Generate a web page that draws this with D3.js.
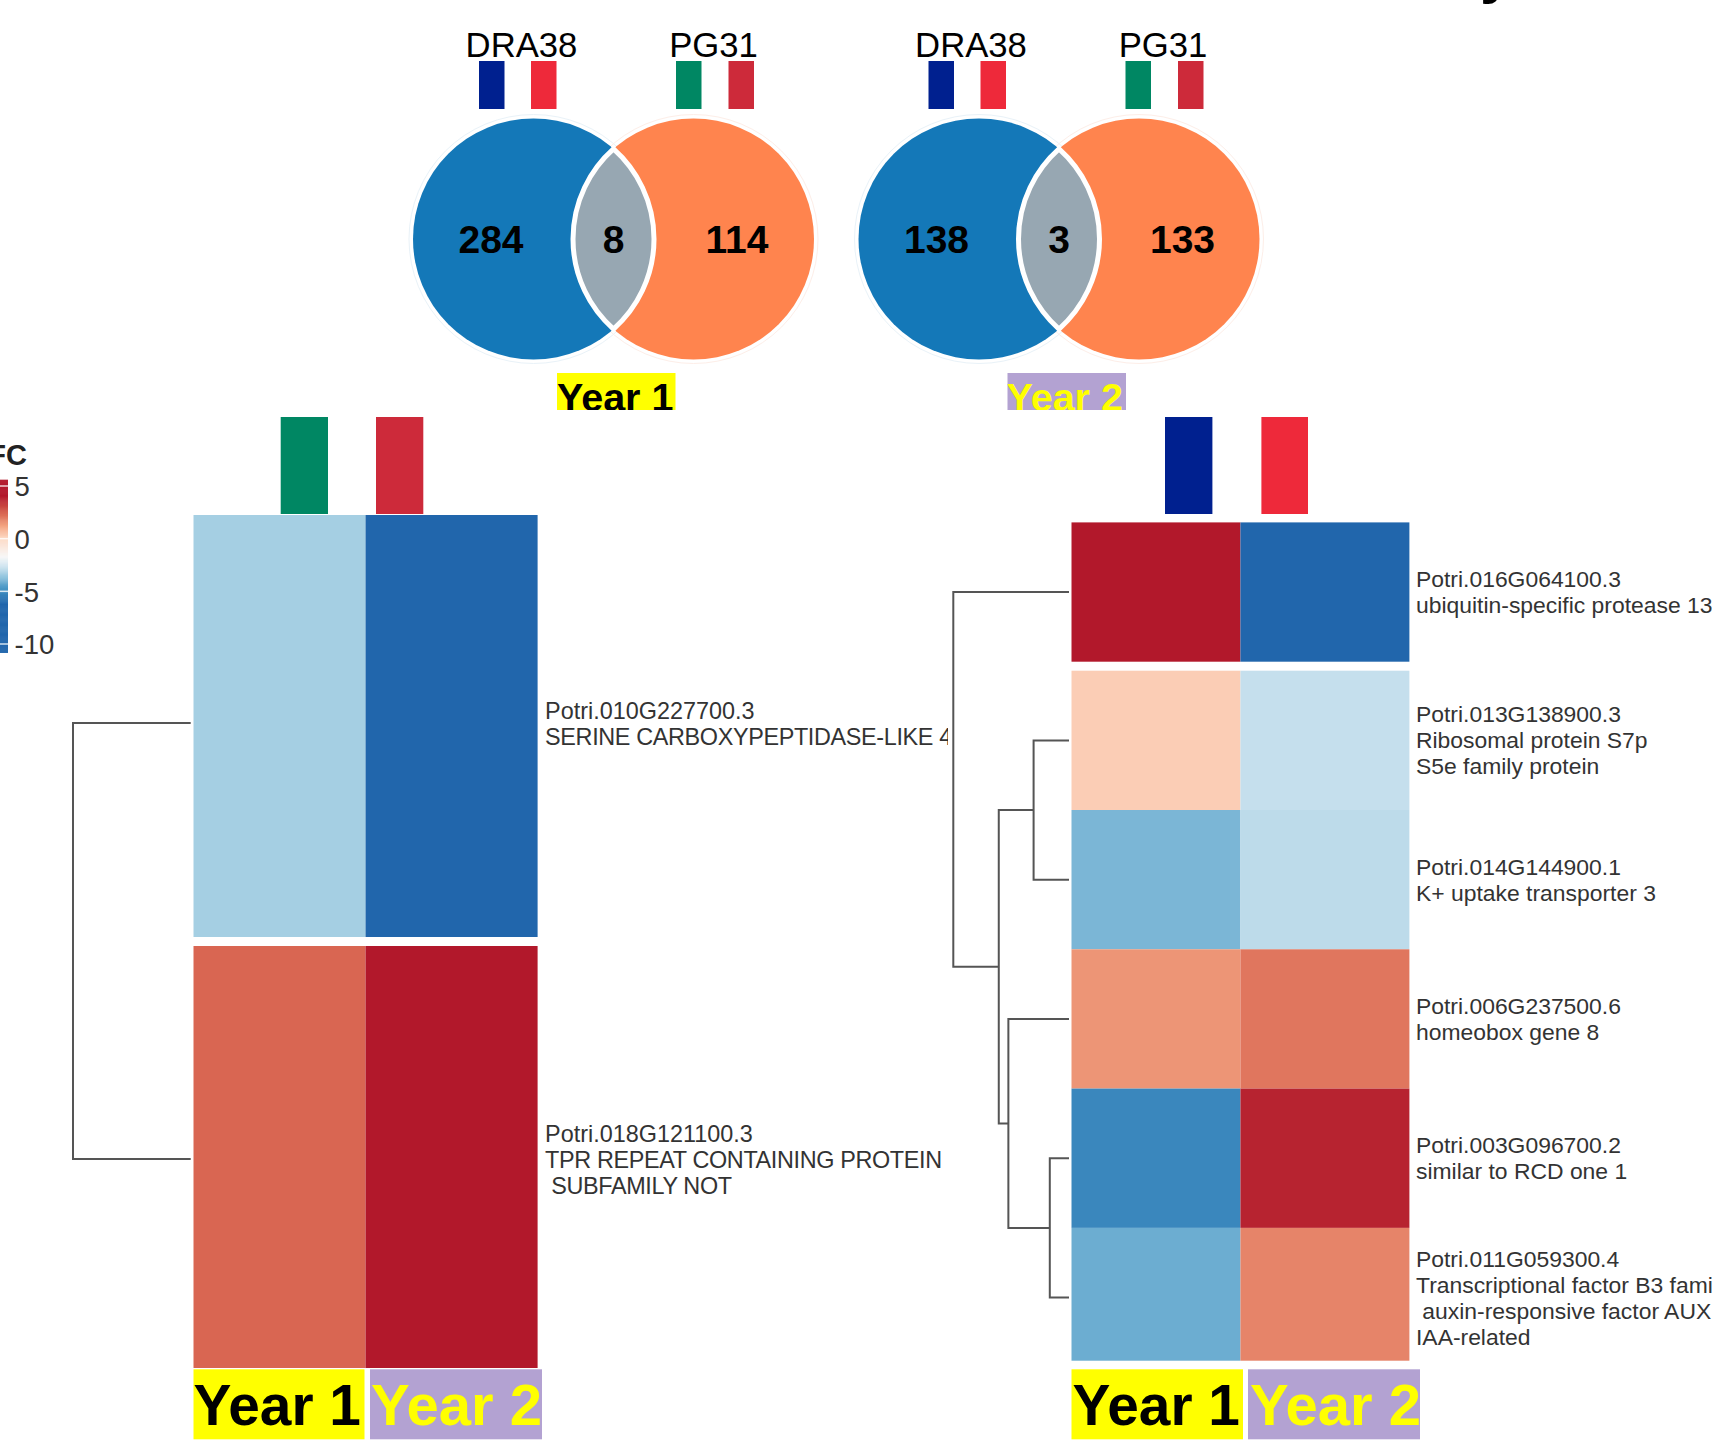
<!DOCTYPE html>
<html>
<head>
<meta charset="utf-8">
<script src="https://cdn.jsdelivr.net/npm/d3@7"></script>
<style>
html, body { margin: 0; padding: 0; background: #fff; overflow: hidden; }
svg { display: block; font-family: "Liberation Sans", Arial, sans-serif; }
text { white-space: pre; }
</style>
</head>
<body>
<div id="canvas"></div>
<script>
// venn counts: DRA38 only, shared, PG31 only
var vennYear1 = [284, 8, 114];
var vennYear2 = [138, 3, 133];
var vennSamples = ["DRA38", "PG31"];
var years = ["Year 1", "Year 2"];

// log fold change per gene, columns are Year 1, Year 2
var leftValues = [[-3.3, -6.8], [2.38, 4.6]];
var rightValues = [[4.6, -6.5], [0.31, -2.79], [-3.92, -2.92], [1.5, 2.08], [-5.1, 3.86], [-4.13, 1.82]];

var leftLabels = [
    ["Potri.010G227700.3", "SERINE CARBOXYPEPTIDASE-LIKE 4"],
    ["Potri.018G121100.3", "TPR REPEAT CONTAINING PROTEIN", " SUBFAMILY NOT"]
];
var rightLabels = [
    ["Potri.016G064100.3", "ubiquitin-specific protease 13"],
    ["Potri.013G138900.3", "Ribosomal protein S7p", "S5e family protein"],
    ["Potri.014G144900.1", "K+ uptake transporter 3"],
    ["Potri.006G237500.6", "homeobox gene 8"],
    ["Potri.003G096700.2", "similar to RCD one 1"],
    ["Potri.011G059300.4", "Transcriptional factor B3 family", " auxin-responsive factor AUX", "IAA-related"]
];

// hclust style merges: child, child, height (root = 1), new nodes numbered after the leaves
var leftMerges = [[0, 1, 1]];
var rightMerges = [[1, 2, 0.306], [4, 5, 0.166], [3, 7, 0.524], [6, 8, 0.607], [0, 9, 1]];

var legendTicks = [5, 0, -5, -10];
var legendRange = [-10.8, 5.6];
var colorStops = [-6.2, -4.7, -3.6, -2.6, -1.7, 0, 1.2, 2.5, 4.1];
var rdBu = ["#2166ac", "#4393c3", "#92c5de", "#d1e5f0", "#f7f7f7", "#fddbc7", "#f4a582", "#d6604d", "#b2182b"];

var navy = "#00208f", red = "#ee293a", green = "#008763", crimson = "#cd2a3a";
var yellow = "#ffff00", purple = "#b3a2d2";

var svg = d3.select("#canvas").append("svg").attr("width", 1712).attr("height", 1440);
var defs = svg.append("defs");

var color = d3.scaleLinear().domain(colorStops).range(rdBu).clamp(true);

// scrap of the cropped title at the top edge
svg.append("text").attr("x", 1480).attr("y", -8).attr("font-size", 60).attr("font-weight", "bold").text("y");

function flag(x, y, w, h, fill) {
    svg.append("rect").attr("x", x).attr("y", y).attr("width", w).attr("height", h).attr("fill", fill);
}

function yearTag(id, year, x, y, w, h, size, textX, baseline) {
    var isFirst = year === years[0];
    defs.append("clipPath").attr("id", id).append("rect").attr("x", x).attr("y", y).attr("width", w).attr("height", h);
    svg.append("rect").attr("x", x).attr("y", y).attr("width", w).attr("height", h)
        .attr("fill", isFirst ? yellow : purple);
    svg.append("text").attr("x", textX).attr("y", baseline)
        .attr("clip-path", "url(#" + id + ")")
        .attr("font-size", size).attr("font-weight", "bold")
        .attr("fill", isFirst ? "#000" : yellow)
        .text(year);
}

// ---- venn diagrams ----
function drawVenn(counts, dx, circleDx, year, idx) {
    var r = 120.5, cy = 239;
    var cxA = 533.5 + circleDx, cxB = 693.5 + circleDx;
    var g = svg.append("g");

    // faint outer rings
    [cxA, cxB].forEach(function(cx, i) {
        g.append("circle").attr("cx", cx).attr("cy", cy).attr("r", r + 4)
            .attr("fill", "none").attr("stroke", i === 0 ? "#e9f2f8" : "#fdeee8").attr("stroke-width", 1);
    });
    g.append("circle").attr("cx", cxA).attr("cy", cy).attr("r", r).attr("fill", "#1478b8");
    g.append("circle").attr("cx", cxB).attr("cy", cy).attr("r", r).attr("fill", "#ff844e");

    // overlap lens from the two circles
    var half = (cxB - cxA) / 2;
    var dy = Math.sqrt(r * r - half * half);
    var mid = cxA + half;
    var lens = "M" + mid + "," + (cy - dy) +
        "A" + r + "," + r + " 0 0 1 " + mid + "," + (cy + dy) +
        "A" + r + "," + r + " 0 0 1 " + mid + "," + (cy - dy) + "Z";
    g.append("path").attr("d", lens).attr("fill", "#97a7b2").attr("stroke", "#fff").attr("stroke-width", 5);

    var lensL = cxB - r, lensR = cxA + r;
    var pos = [(cxA - r + lensL) / 2 - 2, (lensL + lensR) / 2, (lensR + cxB + r) / 2 + 3];
    g.selectAll("text.count").data(counts).enter().append("text")
        .attr("class", "count")
        .attr("x", function(d, i) { return pos[i]; })
        .attr("y", 253)
        .attr("text-anchor", "middle")
        .attr("font-size", 39)
        .attr("font-weight", "bold")
        .text(function(d) { return d; });

    // sample names and flags
    g.selectAll("text.sample").data(vennSamples).enter().append("text")
        .attr("class", "sample")
        .attr("x", function(d, i) { return (i === 0 ? 521.5 : 713.5) + dx; })
        .attr("y", 57)
        .attr("text-anchor", "middle")
        .attr("font-size", 34.7)
        .text(function(d) { return d; });
    flag(479 + dx, 61, 25.5, 48, navy);
    flag(531 + dx, 61, 25.5, 48, red);
    flag(676 + dx, 61, 25.5, 48, green);
    flag(728.5 + dx, 61, 25.5, 48, crimson);

    yearTag("venn-tag-" + idx, year, 557 + dx + (idx === 1 ? 1 : 0), 373, 118.5, 37, 39.5, 557 + dx, 411);
}
drawVenn(vennYear1, 0, 0, years[0], 0);
drawVenn(vennYear2, 449.5, 445.5, years[1], 1);

// ---- legend ----
var legendY = d3.scaleLinear().domain([5, -10]).range([486, 644]);
var legendG = svg.append("g");
var steps = d3.range(legendRange[0], legendRange[1], 0.05);
legendG.selectAll("rect").data(steps).enter().append("rect")
    .attr("x", 0)
    .attr("width", 8)
    .attr("y", function(d) { return legendY(d + 0.05); })
    .attr("height", legendY(0) - legendY(0.05) + 0.5)
    .attr("fill", function(d) { return color(d); });
legendG.selectAll("line").data(legendTicks).enter().append("line")
    .attr("x1", 0).attr("x2", 8)
    .attr("y1", function(d) { return legendY(d); })
    .attr("y2", function(d) { return legendY(d); })
    .attr("stroke", "#fff").attr("stroke-opacity", 0.8).attr("stroke-width", 1.5);

var legendAxis = svg.append("g").attr("transform", "translate(8,1)")
    .call(d3.axisRight(legendY).tickValues(legendTicks).tickSize(0).tickPadding(6.5)
        .tickFormat(function(d) { return String(d); }));
legendAxis.select(".domain").remove();
legendAxis.selectAll("text")
    .attr("font-family", "Liberation Sans")
    .attr("font-size", 27.5)
    .attr("fill", "#333");

svg.append("text").attr("x", 27).attr("y", 465).attr("text-anchor", "end")
    .attr("font-size", 29).attr("font-weight", "bold").attr("fill", "#222").text("FC");

// ---- heatmaps ----
function drawHeatmap(opts) {
    var x = d3.scaleBand().domain(years).range(opts.xRange);
    var y = d3.scaleBand().domain(d3.range(opts.values.length)).range(opts.yRange);
    var g = svg.append("g");

    opts.values.forEach(function(row, i) {
        var top = y(i) - (i < opts.gapRows ? opts.gap : 0);
        var bottom = Math.min(top + y.bandwidth(), opts.bottom);
        g.selectAll(null).data(row).enter().append("rect")
            .attr("x", function(d, j) { return x(years[j]); })
            .attr("y", top)
            .attr("width", x.bandwidth())
            .attr("height", bottom - top)
            .attr("fill", function(d) { return color(d); });
    });

    // gene labels
    var labels = svg.append("g")
        .attr("font-size", opts.labelSize)
        .attr("fill", "#333");
    if (opts.clip) {
        defs.append("clipPath").attr("id", opts.clip.id).append("rect")
            .attr("x", 0).attr("y", 0).attr("width", opts.clip.x).attr("height", 1440);
        labels.attr("clip-path", "url(#" + opts.clip.id + ")");
    }
    opts.labels.forEach(function(lines, i) {
        labels.selectAll(null).data(lines).enter().append("text")
            .attr("x", opts.xRange[1] + opts.labelGap)
            .attr("y", function(d, k) { return opts.leafY(i) - (lines.length - 1) * 13 + k * 26 + opts.labelDy; })
            // the all-caps descriptions run tighter in the source figure
            .attr("letter-spacing", function(d) { return d === d.toUpperCase() && d.indexOf(".") < 0 ? -0.35 : null; })
            .text(function(d) { return d; });
    });

    // dendrogram
    var h = d3.scaleLinear().domain([0, 1]).range(opts.treeRange);
    var nodes = opts.values.map(function(v, i) { return { y: opts.leafY(i), h: 0 }; });
    opts.merges.forEach(function(m) {
        var a = nodes[m[0]], b = nodes[m[1]];
        var p = d3.path();
        p.moveTo(h(a.h), a.y);
        p.lineTo(h(m[2]), a.y);
        p.lineTo(h(m[2]), b.y);
        p.lineTo(h(b.h), b.y);
        g.append("path").attr("d", p.toString())
            .attr("fill", "none").attr("stroke", "#555").attr("stroke-width", 2);
        nodes.push({ y: (a.y + b.y) / 2, h: m[2] });
    });
}

drawHeatmap({
    values: leftValues,
    labels: leftLabels,
    merges: leftMerges,
    xRange: [193.5, 537.6],
    yRange: [524, 1368],
    gap: 9,
    gapRows: 1,
    bottom: 1368,
    labelGap: 7.5,
    labelSize: 23.4,
    labelDy: 9,
    treeRange: [190.7, 73],
    leafY: d3.scaleLinear().domain([0, 1]).range([723, 1159]),
    clip: { id: "left-label-clip", x: 948 }
});

drawHeatmap({
    values: rightValues,
    labels: rightLabels,
    merges: rightMerges,
    xRange: [1071.5, 1409.4],
    yRange: [531.4, 1367.2],
    gap: 9,
    gapRows: 1,
    bottom: 1360.7,
    labelGap: 6.6,
    labelSize: 22.9,
    labelDy: 8,
    treeRange: [1069, 953.3],
    leafY: function(i) { return i === 0 ? 592 : 740.4 + (i - 1) * 139.3; }
});

// flags above the heatmaps
flag(280.7, 417, 47.3, 97, green);
flag(376, 417, 47.3, 97, crimson);
flag(1165, 417, 47.4, 97, navy);
flag(1261.4, 417, 46.6, 97, red);

// year tags below the heatmaps
yearTag("tag-l1", years[0], 193.5, 1369.3, 171, 70, 56.8, 193.5, 1425);
yearTag("tag-l2", years[1], 370, 1369.3, 172, 70, 58, 371, 1425);
yearTag("tag-r1", years[0], 1071.5, 1369.3, 171.5, 70, 56.8, 1072.5, 1425);
yearTag("tag-r2", years[1], 1248, 1369.3, 172, 70, 58, 1250, 1425);
</script>
</body>
</html>
